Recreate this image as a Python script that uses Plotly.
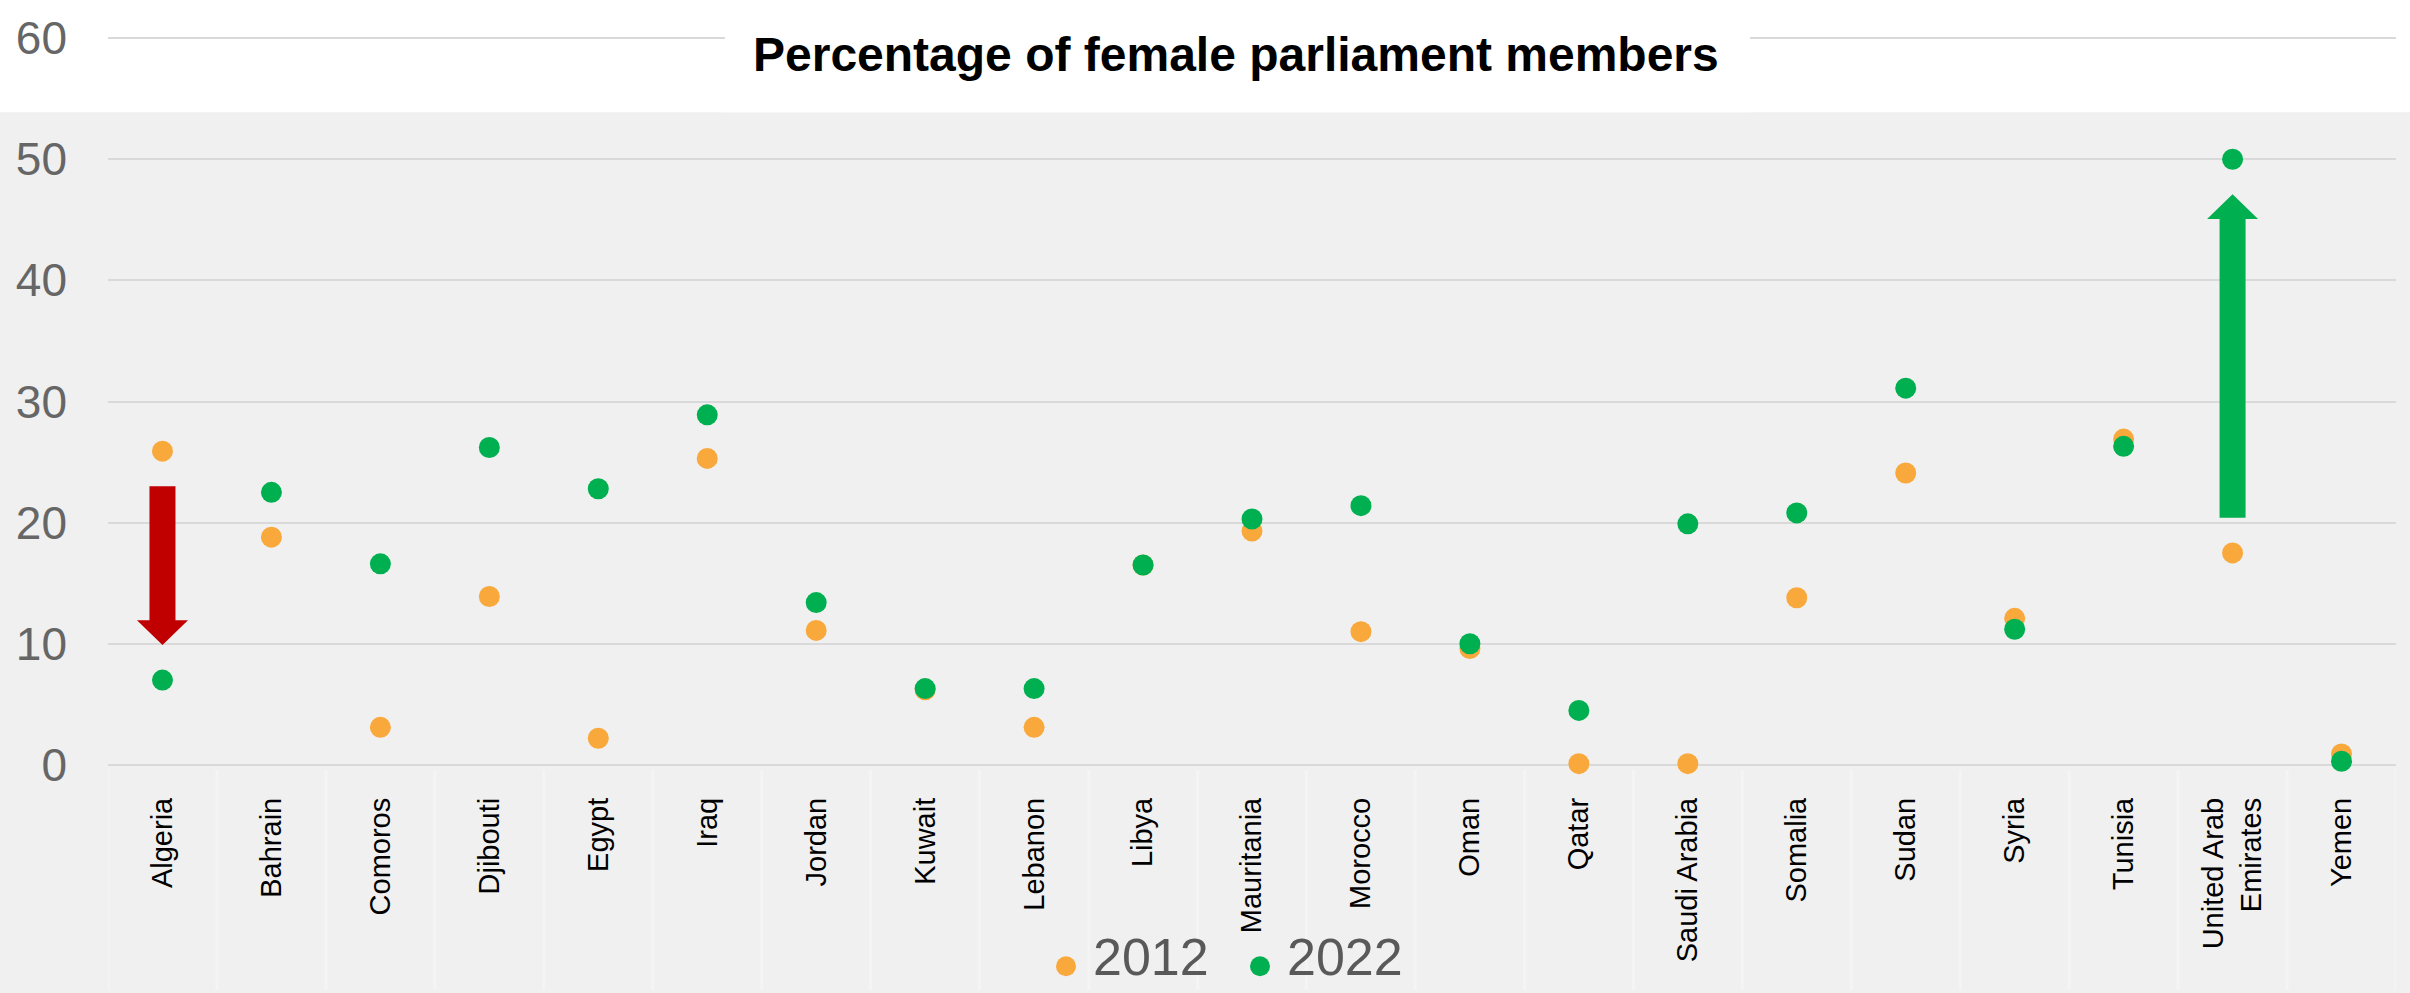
import plotly.graph_objects as go

# ---------------- data ----------------
countries = ["Algeria", "Bahrain", "Comoros", "Djibouti", "Egypt", "Iraq", "Jordan",
             "Kuwait", "Lebanon", "Libya", "Mauritania", "Morocco", "Oman", "Qatar",
             "Saudi Arabia", "Somalia", "Sudan", "Syria", "Tunisia",
             "United Arab Emirates", "Yemen"]
tick_labels = ["Algeria", "Bahrain", "Comoros", "Djibouti", "Egypt", "Iraq", "Jordan",
               "Kuwait", "Lebanon", "Libya", "Mauritania", "Morocco", "Oman", "Qatar",
               "Saudi Arabia", "Somalia", "Sudan", "Syria", "Tunisia",
               "United Arab<br>Emirates", "Yemen"]
values_2012 = [25.9, 18.8, 3.1, 13.9, 2.2, 25.3, 11.1, 6.2, 3.1, 16.5, 19.3, 11.0,
               9.6, 0.1, 0.1, 13.8, 24.1, 12.1, 26.9, 17.5, 0.9]
values_2022 = [7.0, 22.5, 16.6, 26.2, 22.8, 28.9, 13.4, 6.3, 6.3, 16.5, 20.3, 21.4,
               10.0, 4.5, 19.9, 20.8, 31.1, 11.2, 26.3, 50.0, 0.3]
series_names = ["2012", "2022"]
series_colors = ["#F9A83C", "#00B050"]
y_ticks = [0, 10, 20, 30, 40, 50, 60]
arrow_countries = ["Algeria", "United Arab Emirates"]
arrow_colors = ["#C00000", "#00B050"]

# ---------------- geometry helpers ----------------
W, H = 2410, 993
Y_LO, Y_HI = -1.0, 61.0
PX_PER_UNIT = 12.27
Y0_PX = 765.0                      # pixel row of value 0
MT = Y0_PX - Y_HI * PX_PER_UNIT
MB = H - (Y0_PX - Y_LO * PX_PER_UNIT)
ML, MR = 108, 14
PW, PH = W - ML - MR, H - MT - MB


def px_x(p):  # pixel x -> paper
    return (p - ML) / PW


def px_y(p):  # pixel y -> paper
    return (H - MB - p) / PH


unit_per_px = 1 / PX_PER_UNIT
cat_per_px = len(countries) / PW

x_idx = list(range(len(countries)))

fig = go.Figure()
for nm, vals, col in zip(series_names, [values_2012, values_2022], series_colors):
    fig.add_trace(go.Scatter(x=x_idx, y=vals, mode="markers", name=nm,
                             marker=dict(color=col, size=21, line=dict(width=0)),
                             cliponaxis=False, showlegend=False))

shapes = []
# white top band
shapes.append(dict(type="rect", xref="paper", yref="paper", x0=-0.2, x1=1.2,
                   y0=px_y(104), y1=1.3, fillcolor="white", line=dict(width=0),
                   layer="below"))
# faint category separators below the axis
for k in range(len(countries) + 1):
    shapes.append(dict(type="line", xref="x", yref="paper", x0=k - 0.5, x1=k - 0.5,
                       y0=px_y(770), y1=px_y(H), line=dict(color="#f4f4f4", width=3),
                       layer="below"))
# white title box
shapes.append(dict(type="rect", xref="paper", yref="paper", x0=px_x(725), x1=px_x(1750),
                   y0=px_y(104), y1=1.3, fillcolor="white", line=dict(width=0),
                   layer="above"))

# arrows from 2012 to 2022 values
gap = 2.9
head_len = 25 * unit_per_px
for name, col in zip(arrow_countries, arrow_colors):
    i = countries.index(name)
    v0, v1 = values_2012[i], values_2022[i]
    d = 1 if v1 > v0 else -1
    start = v0 + d * gap
    tip = v1 - d * gap
    base = tip - d * head_len
    hw = 13 * cat_per_px
    hh = 25.5 * cat_per_px
    path = (f"M {i-hw},{start} L {i+hw},{start} L {i+hw},{base} L {i+hh},{base} "
            f"L {i},{tip} L {i-hh},{base} L {i-hw},{base} Z")
    shapes.append(dict(type="path", xref="x", yref="y", path=path, fillcolor=col,
                       line=dict(width=0), layer="above"))

# manual legend (dots + text)
legend_dot_px = [1066, 1260]
legend_text_px = [1091, 1285]
annotations = [dict(text="<b>Percentage of female parliament members</b>",
                    xref="paper", yref="paper", x=px_x(1236), y=px_y(45),
                    xanchor="center", yanchor="middle", showarrow=False,
                    font=dict(size=48, color="black"))]
for nm, col, dx, tx in zip(series_names, series_colors, legend_dot_px, legend_text_px):
    shapes.append(dict(type="circle", xref="paper", yref="paper",
                       xsizemode="pixel", ysizemode="pixel",
                       xanchor=px_x(dx), yanchor=px_y(969),
                       x0=-10, x1=10, y0=-10, y1=10,
                       fillcolor=col, line=dict(width=0), layer="above"))
    annotations.append(dict(text=nm, xref="paper", yref="paper", x=px_x(tx), y=px_y(960),
                            xanchor="left", yanchor="middle", showarrow=False,
                            font=dict(size=52, color="#595959")))

fig.update_layout(
    width=W, height=H, autosize=False,
    margin=dict(l=ML, r=MR, t=MT, b=MB),
    paper_bgcolor="#f0f0f0", plot_bgcolor="rgba(0,0,0,0)",
    font=dict(family="Liberation Sans, Arial, sans-serif"),
    shapes=shapes,
    showlegend=False,
    annotations=annotations,
)
fig.update_xaxes(range=[-0.5, len(countries) - 0.5], tickvals=x_idx, ticktext=tick_labels,
                 tickangle=-90, tickfont=dict(size=29, color="black"), showgrid=False,
                 zeroline=False, showline=False, ticks="", ticklabelstandoff=14)
fig.update_yaxes(range=[Y_LO, Y_HI], tickvals=y_ticks, showgrid=True, gridcolor="#d9d9d9",
                 gridwidth=2, zeroline=False, showline=False, ticks="",
                 tickfont=dict(size=46, color="#666666"), ticklabelstandoff=40)

fig.write_html("out.html")
